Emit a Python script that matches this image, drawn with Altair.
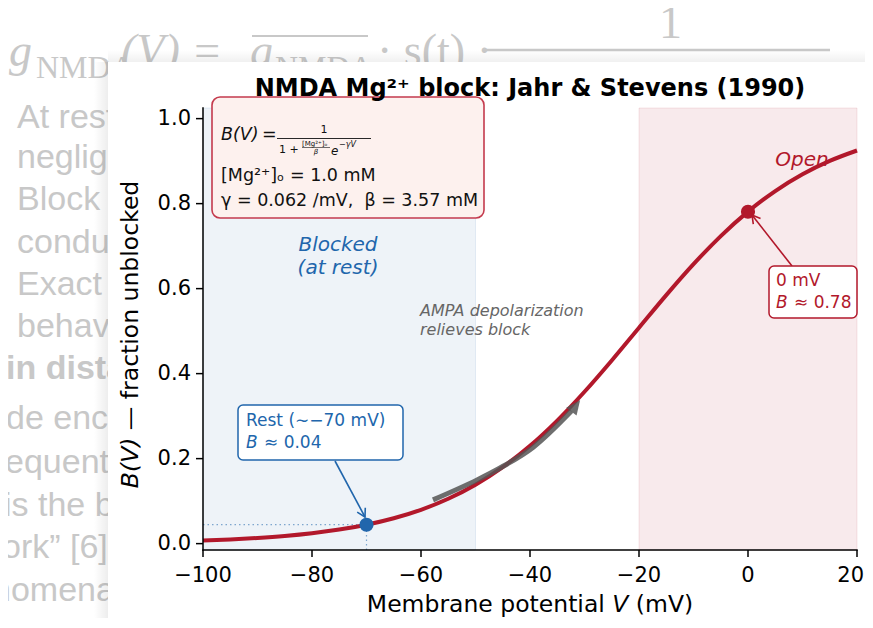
import altair as alt
import pandas as pd

# ---------------- data ----------------
V_MV = [-100, -95, -90, -85, -80, -75, -70, -65, -60, -55, -50, -45, -40,
        -35, -30, -25, -20, -15, -10, -5, 0, 5, 10, 15, 20]
B_FRAC = [0.0072, 0.0098, 0.0133, 0.0180, 0.0244, 0.0330, 0.0445, 0.0597,
          0.0796, 0.1055, 0.1385, 0.1799, 0.2301, 0.2896, 0.3573, 0.4310,
          0.5081, 0.5848, 0.6576, 0.7236, 0.7812, 0.8296, 0.8691, 0.9005,
          0.9250]
REST_V, REST_B = -70, 0.0445
ZERO_V, ZERO_B = 0, 0.781
BLOCKED_SPAN = (-100, -50)
OPEN_SPAN = (-20, 20)
AMPA_V = [-57.8, -49.7, -45.5, -39.4, -32.4]
AMPA_B = [0.103, 0.150, 0.178, 0.227, 0.312]
AMPA_TIP = (-30.8, 0.338)
X_TICKS = [-100, -80, -60, -40, -20, 0, 20]
Y_TICKS = [0.0, 0.2, 0.4, 0.6, 0.8, 1.0]

TITLE = "NMDA Mg²⁺ block: Jahr & Stevens (1990)"
SLIDE_LINES = ["At rest", "negligible", "Block", "conduct", "Exact", "behavior"]
SLIDE_LINES2 = ["de encodes", "equently", "is the b", "ork” [6]", "nomena"]

# ---------------- layout ----------------
W, H = 654, 442
PAD_L, PAD_T, PAD_R = 195, 100, 8
X_DOM = [-100, 20]
Y_DOM = [-0.015, 1.025]
BLUE, RED = "#2166ac", "#b2182b"
SANS = "DejaVu Sans"
SLIDE_GREY = "#c8c8c8"


def vx(px):
    """page pixel x -> data V (used for decorations / annotations)"""
    return X_DOM[0] + (px - 8 - PAD_L) * (X_DOM[1] - X_DOM[0]) / W


def by(py):
    """page pixel y -> data B"""
    return Y_DOM[1] - (py - 8 - PAD_T) * (Y_DOM[1] - Y_DOM[0]) / H


xs = alt.Scale(domain=X_DOM, nice=False, zero=False)
ys = alt.Scale(domain=Y_DOM, nice=False, zero=False)


def enc_xy(ch, xf="x", yf="y"):
    return ch.encode(x=alt.X(f"{xf}:Q", scale=xs, axis=None),
                     y=alt.Y(f"{yf}:Q", scale=ys, axis=None))


def txt(rows, **kw):
    df = pd.DataFrame(rows, columns=["x", "y", "t"])
    return alt.Chart(df).mark_text(**kw).encode(
        x=alt.X("x:Q", scale=xs, axis=None),
        y=alt.Y("y:Q", scale=ys, axis=None),
        text="t:N")


def rect(x, x2, y, y2, **kw):
    df = pd.DataFrame({"x": [x], "x2": [x2], "y": [y], "y2": [y2]})
    return alt.Chart(df).mark_rect(**kw).encode(
        x=alt.X("x:Q", scale=xs, axis=None), x2="x2:Q",
        y=alt.Y("y:Q", scale=ys, axis=None), y2="y2:Q")


def segs(rows, **kw):
    df = pd.DataFrame(rows, columns=["x", "y", "x2", "y2"])
    return alt.Chart(df).mark_rule(**kw).encode(
        x=alt.X("x:Q", scale=xs, axis=None), x2="x2:Q",
        y=alt.Y("y:Q", scale=ys, axis=None), y2="y2:Q")


def seg(x, y, x2, y2, **kw):
    return segs([(x, y, x2, y2)], **kw)


def head(x, y, angle, path, size, **kw):
    df = pd.DataFrame({"x": [x], "y": [y]})
    return enc_xy(alt.Chart(df).mark_point(shape=path, angle=angle, size=size, **kw))


CHEVRON = "M-0.75,1.3L0,0L0.75,1.3"
TRI = "M0,0L-0.8,1.8L0.8,1.8Z"

layers = []

# ---------- faded slide behind the figure ----------
slide_y1 = [118, 158, 200, 243, 285, 327]
layers.append(txt([(vx(17), by(yy), t) for yy, t in zip(slide_y1, SLIDE_LINES)],
                  align="left", baseline="middle", font="Liberation Sans",
                  fontSize=34, color=SLIDE_GREY))
layers.append(txt([(vx(6), by(369), "in distal")],
                  align="left", baseline="middle", font="Liberation Sans",
                  fontSize=34, fontWeight="bold", color=SLIDE_GREY))
slide_y2 = [419, 463, 506, 548, 591]
slide_x2 = [6, 5, 4, 2, -8]
layers.append(txt([(vx(xx), by(yy), t) for xx, yy, t in zip(slide_x2, slide_y2, SLIDE_LINES2)],
                  align="left", baseline="middle", font="Liberation Sans",
                  fontSize=34, color=SLIDE_GREY))
# slide formula g_NMDA(V) = gbar_NMDA * s(t) * 1/(...)
layers.append(txt([(vx(9), by(66), "g"), (vx(250), by(66), "g")],
                  align="left", baseline="alphabetic", font="Liberation Serif",
                  fontSize=46, fontStyle="italic", color=SLIDE_GREY))
layers.append(txt([(vx(36), by(78), "NMDA"), (vx(275), by(78), "NMDA")],
                  align="left", baseline="alphabetic", font="Liberation Serif",
                  fontSize=32, color=SLIDE_GREY))
layers.append(txt([(vx(121), by(66), "(V)  =")],
                  align="left", baseline="alphabetic", font="Liberation Serif",
                  fontSize=46, fontStyle="italic", color=SLIDE_GREY))
layers.append(txt([(vx(377), by(66), "·  s(t)  ·"), (vx(659), by(38), "1")],
                  align="left", baseline="alphabetic", font="Liberation Serif",
                  fontSize=46, color=SLIDE_GREY))
layers.append(seg(vx(486), by(50), vx(830), by(50), color=SLIDE_GREY, strokeWidth=2.5))
layers.append(seg(vx(252), by(36), vx(368), by(36), color=SLIDE_GREY, strokeWidth=2))

# ---------- figure panel (white card with soft shadow) ----------
shadow_x = alt.LinearGradient(gradient="linear", x1=0, x2=1, y1=0, y2=0,
                              stops=[alt.GradientStop(color="rgba(0,0,0,0)", offset=0),
                                     alt.GradientStop(color="rgba(0,0,0,0.07)", offset=1)])
shadow_y = alt.LinearGradient(gradient="linear", x1=0, x2=0, y1=0, y2=1,
                              stops=[alt.GradientStop(color="rgba(0,0,0,0)", offset=0),
                                     alt.GradientStop(color="rgba(0,0,0,0.06)", offset=1)])
layers.append(rect(vx(94), vx(108), by(62), by(640), fill=shadow_x))
layers.append(rect(vx(108), vx(880), by(50), by(62), fill=shadow_y))
layers.append(rect(vx(108), vx(880), by(62), by(640), fill="white"))

# ---------- shaded regions ----------
layers.append(rect(BLOCKED_SPAN[0], BLOCKED_SPAN[1], Y_DOM[0], Y_DOM[1],
                   fill=BLUE, fillOpacity=0.08, stroke=BLUE, strokeOpacity=0.1, strokeWidth=1))
layers.append(rect(OPEN_SPAN[0], OPEN_SPAN[1], Y_DOM[0], Y_DOM[1],
                   fill=RED, fillOpacity=0.09, stroke=RED, strokeOpacity=0.1, strokeWidth=1))

# dotted guides to rest point
layers.append(seg(X_DOM[0], REST_B, REST_V, REST_B, color=BLUE, opacity=0.55,
                  strokeWidth=1.2, strokeDash=[1.5, 3]))
layers.append(seg(REST_V, Y_DOM[0], REST_V, REST_B, color=BLUE, opacity=0.55,
                  strokeWidth=1.2, strokeDash=[1.5, 3]))

# region labels
layers.append(txt([(vx(338), by(245), "Blocked"), (vx(338), by(268), "(at rest)")],
                  align="center", baseline="middle", font=SANS, fontSize=20,
                  fontStyle="italic", color=BLUE))
layers.append(txt([(vx(802), by(160), "Open")],
                  align="center", baseline="middle", font=SANS, fontSize=20,
                  fontStyle="italic", color=RED))
layers.append(txt([(vx(420), by(311), "AMPA depolarization"), (vx(420), by(330), "relieves block")],
                  align="left", baseline="middle", font=SANS, fontSize=16,
                  fontStyle="italic", color="#666666"))

# ---------- the curve ----------
curve_df = pd.DataFrame({"V": V_MV, "B": B_FRAC})
layers.append(alt.Chart(curve_df).mark_line(color=RED, strokeWidth=4, interpolate="monotone").encode(
    x=alt.X("V:Q", scale=xs, axis=None),
    y=alt.Y("B:Q", scale=ys, axis=None)))

# AMPA arrow along the curve
ampa_df = pd.DataFrame({"x": AMPA_V, "y": AMPA_B})
layers.append(enc_xy(alt.Chart(ampa_df).mark_line(color="#555555", opacity=0.85,
                                                  strokeWidth=5, interpolate="monotone")))
layers.append(head(AMPA_TIP[0], AMPA_TIP[1], 37, TRI, 260, filled=True,
                   color="#555555", opacity=0.85))

# points
layers.append(enc_xy(alt.Chart(pd.DataFrame({"x": [REST_V], "y": [REST_B]})).mark_circle(
    size=200, color=BLUE, opacity=1)))
layers.append(enc_xy(alt.Chart(pd.DataFrame({"x": [ZERO_V], "y": [ZERO_B]})).mark_circle(
    size=200, color=RED, opacity=1)))

# ---------- axes (spines, ticks, tick labels) ----------
AX_KW = dict(color="black", strokeWidth=1.5)
layers.append(seg(X_DOM[0], Y_DOM[0], X_DOM[0], Y_DOM[1], strokeCap="square", **AX_KW))
layers.append(seg(X_DOM[0], Y_DOM[0], X_DOM[1], Y_DOM[0], strokeCap="square", **AX_KW))
layers.append(segs([(t, Y_DOM[0], t, by(557)) for t in X_TICKS], **AX_KW))
layers.append(segs([(vx(196), t, X_DOM[0], t) for t in Y_TICKS], **AX_KW))
# the last x label is kept inside the canvas edge (page is only 873 px wide)
edge_x = vx(8 + PAD_L + W + PAD_R - 1)
layers.append(txt([(t, by(565), f"{t}".replace("-", "−")) for t in X_TICKS[:-1]],
                  align="center", baseline="top", font=SANS, fontSize=21, color="black"))
layers.append(txt([(edge_x, by(565), f"{X_TICKS[-1]}")],
                  align="right", baseline="top", font=SANS, fontSize=21, color="black"))
layers.append(txt([(vx(191), t, f"{t:.1f}") for t in Y_TICKS],
                  align="right", baseline="middle", font=SANS, fontSize=21, color="black"))

# ---------- annotation: rest ----------
layers.append(seg(vx(335), by(461), vx(365), by(517), color=BLUE, strokeWidth=1.6))
layers.append(head(vx(365), by(517), 151.8, CHEVRON, 150, filled=False, color=BLUE,
                   strokeWidth=1.6, opacity=1))
layers.append(rect(vx(238), vx(403), by(405), by(460), fill="white", stroke=BLUE,
                   strokeWidth=1.5, cornerRadius=5))
layers.append(txt([(vx(246), by(421), "Rest (∼−70 mV)"), (vx(264), by(443), "≈  0.04")],
                  align="left", baseline="middle", font=SANS, fontSize=17, color=BLUE))
layers.append(txt([(vx(246), by(443), "B")],
                  align="left", baseline="middle", font=SANS, fontSize=17,
                  fontStyle="italic", color=BLUE))

# ---------- annotation: 0 mV ----------
layers.append(seg(vx(792), by(266), vx(752), by(215), color=RED, strokeWidth=1.6))
layers.append(head(vx(752), by(215), 321.9, CHEVRON, 150, filled=False, color=RED,
                   strokeWidth=1.6, opacity=1))
layers.append(rect(vx(769), vx(857), by(266), by(318), fill="white", stroke=RED,
                   strokeWidth=1.5, cornerRadius=5))
layers.append(txt([(vx(776), by(281), "0 mV"), (vx(794), by(303), "≈  0.78")],
                  align="left", baseline="middle", font=SANS, fontSize=17, color=RED))
layers.append(txt([(vx(776), by(303), "B")],
                  align="left", baseline="middle", font=SANS, fontSize=17,
                  fontStyle="italic", color=RED))

# ---------- formula box ----------
layers.append(rect(vx(212), vx(484), by(97), by(218), fill="#fdf1ee", stroke="#c43a4d",
                   strokeWidth=1.6, cornerRadius=8))
INK = "#111111"
layers.append(txt([(vx(221), by(135), "B(V)")], align="left", baseline="middle", font=SANS,
                  fontSize=17.5, fontStyle="italic", color=INK))
layers.append(txt([(vx(262), by(135), "=")], align="left", baseline="middle", font=SANS,
                  fontSize=17.5, color=INK))
layers.append(txt([(vx(324), by(130), "1")], align="center", baseline="middle", font=SANS,
                  fontSize=11, color=INK))
layers.append(seg(vx(277), by(138.5), vx(371), by(138.5), color=INK, strokeWidth=0.9))
layers.append(txt([(vx(279), by(150), "1 +")], align="left", baseline="middle", font=SANS,
                  fontSize=11, color=INK))
layers.append(txt([(vx(302), by(144), "[Mg²⁺]ₒ")], align="left", baseline="middle", font=SANS,
                  fontSize=7, color=INK))
layers.append(seg(vx(302), by(147.5), vx(330), by(147.5), color=INK, strokeWidth=0.6))
layers.append(txt([(vx(316), by(152), "β")], align="center", baseline="middle", font=SANS,
                  fontSize=7, fontStyle="italic", color=INK))
layers.append(txt([(vx(331), by(151), "e")], align="left", baseline="middle", font=SANS,
                  fontSize=12, fontStyle="italic", color=INK))
layers.append(txt([(vx(339), by(145), "−γV")], align="left", baseline="middle", font=SANS,
                  fontSize=8, fontStyle="italic", color=INK))
layers.append(txt([(vx(221), by(176), "[Mg²⁺]ₒ = 1.0 mM"),
                   (vx(221), by(201), "γ = 0.062 /mV,\u00a0\u00a0β = 3.57 mM")],
                  align="left", baseline="middle", font=SANS, fontSize=17.5, color=INK))

# ---------- title and axis titles ----------
layers.append(txt([(vx(530), by(96), TITLE)], align="center", baseline="alphabetic",
                  font=SANS, fontSize=24, fontWeight="bold", color="black"))

FX = 23.5
x_start = 530 - 13.885 * FX / 2
layers.append(txt([(vx(x_start), by(612), "Membrane potential"),
                   (vx(x_start + (10.445 + 0.684 + 0.318) * FX), by(612), "(mV)")],
                  align="left", baseline="alphabetic", font=SANS, fontSize=FX, color="black"))
layers.append(txt([(vx(x_start + 10.445 * FX), by(612), "V")],
                  align="left", baseline="alphabetic", font=SANS, fontSize=FX,
                  fontStyle="italic", color="black"))

FY = 23.5
y_start = 334 + 13.118 * FY / 2
layers.append(txt([(vx(131), by(y_start), "B(V)")], align="left", baseline="middle",
                  font=SANS, fontSize=FY, fontStyle="italic", angle=270, color="black"))
layers.append(txt([(vx(131), by(y_start - (2.15 + 0.318) * FY), "— fraction unblocked")],
                  align="left", baseline="middle", font=SANS, fontSize=FY, angle=270,
                  color="black"))

chart = alt.layer(*layers).properties(
    width=W, height=H,
    padding={"left": PAD_L, "top": PAD_T, "right": PAD_R, "bottom": 68},
    autosize=alt.AutoSizeParams(type="none"),
).configure_view(strokeWidth=0)

chart.save("out.html", embed_options={"renderer": "svg", "actions": False})
